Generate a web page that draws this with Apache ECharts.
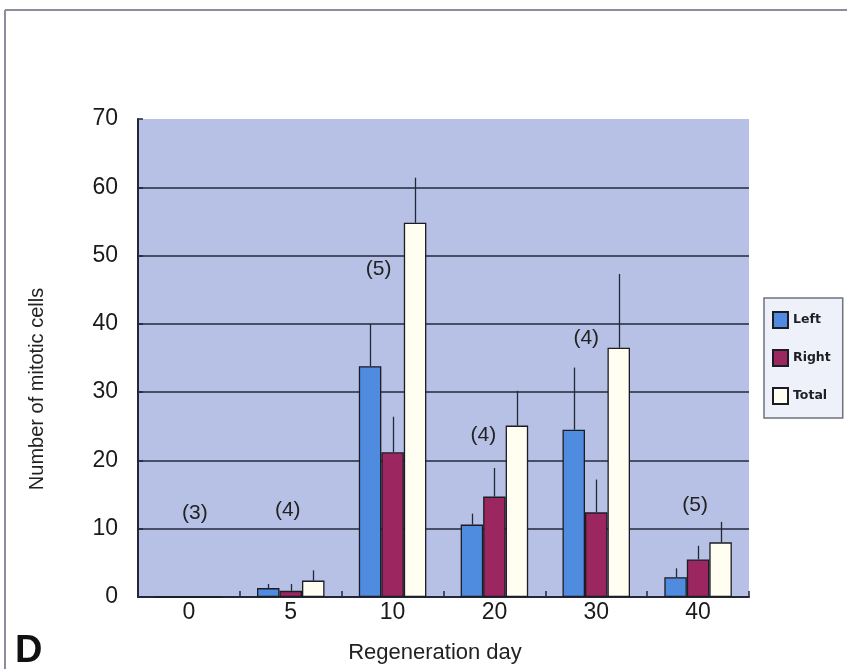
<!DOCTYPE html>
<html>
<head>
<meta charset="utf-8">
<script src="https://cdn.jsdelivr.net/npm/echarts@6/dist/echarts.min.js"></script>
<style>
  html, body { margin: 0; padding: 0; background: #ffffff; }
  #chart { width: 847px; height: 669px; }
</style>
</head>
<body>
<div id="chart"></div>
<script>
// Mitotic cell counts per regeneration day (mean and upper error)
const days = ['0', '5', '10', '20', '30', '40'];
const leftMean  = [0, 1.3, 33.8, 10.6, 24.5, 2.9];
const leftErr   = [0, 0.6, 6.2, 1.6, 9.1, 1.3];
const rightMean = [0, 0.9, 21.2, 14.7, 12.4, 5.5];
const rightErr  = [0, 1.0, 5.2, 4.2, 4.8, 2.0];
const totalMean = [0, 2.4, 54.8, 25.1, 36.5, 8.0];
const totalErr  = [0, 1.5, 6.6, 5.1, 10.8, 3.0];
const sampleSizes = ['(3)', '(4)', '(5)', '(4)', '(4)', '(5)'];
const yTickValues = [0, 10, 20, 30, 40, 50, 60, 70];

// Layout: where each "(n)" note sits (value level, pixel shift from category centre)
const noteLevel = [12.3, 12.7, 48.0, 23.7, 37.9, 13.5];
const noteShift = [6, -3, -14, -11, -10, -3];

const BAR_W = 22.5;
const INK = '#232839';
const FONT = '"Liberation Sans", Arial, sans-serif';

const chart = echarts.init(document.getElementById('chart'), null, { renderer: 'canvas' });

function errorSeries(means, errs, slot) {
  return {
    type: 'custom',
    z: 4,
    silent: true,
    data: means.map((m, i) => [i, m, errs[i]]),
    encode: { x: 0, y: 1 },
    renderItem(params, api) {
      const err = api.value(2);
      if (!err) return null;
      const base = api.coord([api.value(0), api.value(1)]);
      const top = api.coord([api.value(0), api.value(1) + err]);
      const x = Math.round(base[0] + (slot - 1) * BAR_W) + 0.5;
      return {
        type: 'line',
        shape: { x1: x, y1: base[1], x2: x, y2: top[1] },
        style: { stroke: INK, lineWidth: 1.3 }
      };
    }
  };
}

const noteSeries = {
  type: 'custom',
  z: 5,
  silent: true,
  data: sampleSizes.map((s, i) => [i, noteLevel[i]]),
  encode: { x: 0, y: 1 },
  renderItem(params, api) {
    const idx = params.dataIndex;
    const p = api.coord([api.value(0), api.value(1)]);
    return {
      type: 'text',
      x: p[0] + noteShift[idx],
      y: p[1],
      style: {
        text: sampleSizes[idx],
        fill: '#222222',
        font: '21px ' + FONT,
        align: 'center',
        verticalAlign: 'middle'
      }
    };
  }
};

function barSeries(name, values, color) {
  return {
    name: name,
    type: 'bar',
    data: values,
    barWidth: BAR_W,
    barGap: '0%',
    z: 2,
    itemStyle: { color: color, borderColor: '#1c1c24', borderWidth: 1.3 }
  };
}

const option = {
  animation: false,
  backgroundColor: '#ffffff',
  grid: {
    left: 138, top: 119, width: 611, height: 478,
    show: true, backgroundColor: '#b6c1e5', borderWidth: 0
  },
  legend: {
    orient: 'vertical',
    left: 764, top: 298,
    data: ['Left', 'Right', 'Total'],
    itemWidth: 15, itemHeight: 16, itemGap: 20,
    padding: [13, 12, 13, 8],
    backgroundColor: '#eef1f9',
    borderColor: '#6f7280', borderWidth: 1.5,
    icon: 'rect',
    textStyle: { fontFamily: '"DejaVu Sans", sans-serif', fontWeight: 'bold', fontSize: 12.5, color: '#1e1e26' }
  },
  xAxis: {
    type: 'category',
    data: days,
    boundaryGap: true,
    axisLine: { show: true, lineStyle: { color: INK, width: 2 } },
    axisTick: { show: true, inside: true, length: 6, alignWithLabel: false, lineStyle: { color: INK, width: 1.5 } },
    axisLabel: { fontFamily: FONT, fontSize: 23, color: '#1a1a1a', margin: 4 },
    splitLine: { show: false }
  },
  yAxis: {
    type: 'value',
    min: 0, max: 70, interval: 10,
    axisLine: { show: true, lineStyle: { color: INK, width: 2 } },
    axisTick: { show: true, inside: true, length: 5, lineStyle: { color: INK, width: 1.5 } },
    axisLabel: {
      fontFamily: FONT, fontSize: 23, color: '#1a1a1a', margin: 20,
      customValues: yTickValues
    },
    splitLine: { show: true, showMinLine: false, showMaxLine: false, lineStyle: { color: INK, width: 1.7 } }
  },
  series: [
    barSeries('Left', leftMean, '#4f8ce0'),
    barSeries('Right', rightMean, '#9c2660'),
    barSeries('Total', totalMean, '#fffef0'),
    errorSeries(leftMean, leftErr, 0),
    errorSeries(rightMean, rightErr, 1),
    errorSeries(totalMean, totalErr, 2),
    noteSeries
  ],
  graphic: [
    // panel frame
    { type: 'line', shape: { x1: 5, y1: 10, x2: 847, y2: 10 }, style: { stroke: '#8b8c9c', lineWidth: 2 } },
    { type: 'line', shape: { x1: 5, y1: 10, x2: 5, y2: 669 }, style: { stroke: '#8b8c9c', lineWidth: 2 } },
    // axis titles
    {
      type: 'text', x: 37, y: 389, rotation: Math.PI / 2,
      style: { text: 'Number of mitotic cells', font: '20px ' + FONT, fill: '#222', align: 'center', verticalAlign: 'middle' }
    },
    {
      type: 'text', x: 435, y: 653,
      style: { text: 'Regeneration day', font: '22px ' + FONT, fill: '#222', align: 'center', verticalAlign: 'middle' }
    },
    // panel letter
    {
      type: 'text', x: 15, y: 652,
      style: { text: 'D', font: 'bold 38px ' + FONT, fill: '#111', align: 'left', verticalAlign: 'middle' }
    }
  ]
};

chart.setOption(option);
</script>
</body>
</html>
